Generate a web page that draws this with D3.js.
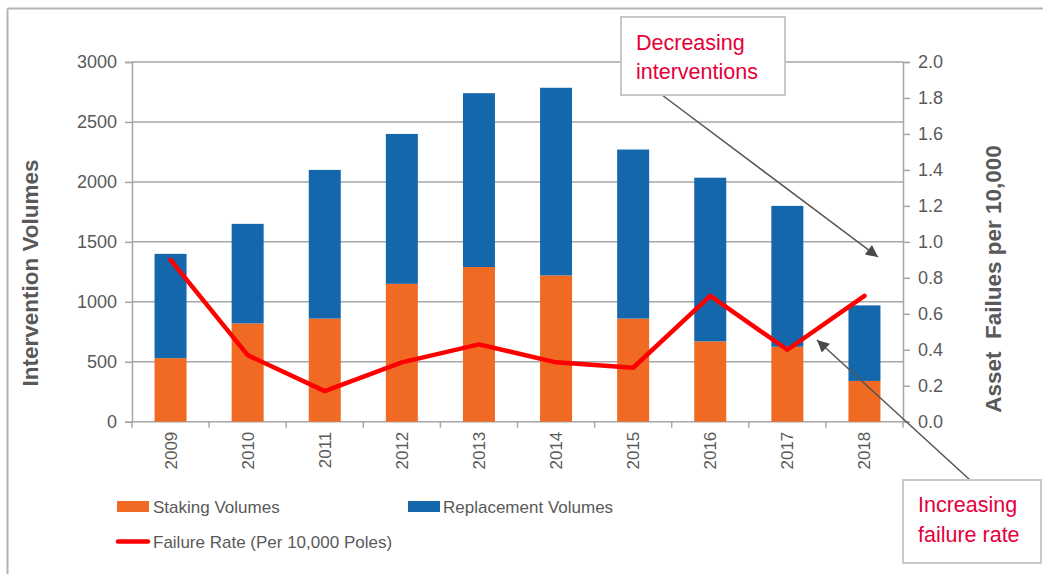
<!DOCTYPE html>
<html><head><meta charset="utf-8">
<script src="https://cdn.jsdelivr.net/npm/d3@7"></script>
<style>
html,body{margin:0;padding:0;background:#fff;}
svg text{font-family:"Liberation Sans",Arial,sans-serif;}
</style></head>
<body><svg id="c" width="1043" height="574"></svg>
<script>
const years = ["2009","2010","2011","2012","2013","2014","2015","2016","2017","2018"];
const staking = [530, 820, 860, 1150, 1290, 1220, 860, 670, 625, 340];
const totals = [1400, 1650, 2100, 2400, 2740, 2785, 2270, 2035, 1800, 970];
const replacement = totals.map((t,i)=>t - staking[i]);
const failureRate = [0.90, 0.37, 0.17, 0.33, 0.43, 0.33, 0.30, 0.70, 0.40, 0.70];
const leftTicks = [0,500,1000,1500,2000,2500,3000];
const rightTicks = [0,0.2,0.4,0.6,0.8,1.0,1.2,1.4,1.6,1.8,2.0];
const seriesNames = ["Staking Volumes","Replacement Volumes","Failure Rate (Per 10,000 Poles)"];

const W=1043,H=574;
const m={l:132,r:903,t:62,b:421.7};
const cOrange="#F06A24", cBlue="#1467AB", cRed="#FF0000", cText="#595959", cGrid="#a6a6a6", cNote="#E4003B";
const svg=d3.select("#c");

// frame
svg.append("line").attr("x1",7.5).attr("x2",W).attr("y1",8.5).attr("y2",8.5).attr("stroke","#b4b4b4").attr("stroke-width",2);
svg.append("line").attr("x1",7.5).attr("x2",7.5).attr("y1",8.5).attr("y2",H).attr("stroke","#b4b4b4").attr("stroke-width",2);

const x=d3.scaleBand().domain(years).range([m.l,m.r]).paddingInner(0.585).paddingOuter(0.2925);
const y=d3.scaleLinear().domain([0,3000]).range([m.b,m.t]);
const y2=d3.scaleLinear().domain([0,2]).range([m.b,m.t]);

// gridlines + left axis
const gl=svg.append("g").attr("transform",`translate(${m.l},0)`)
  .call(d3.axisLeft(y).tickValues(leftTicks).tickSize(7).tickPadding(8).tickFormat(d3.format("d")));
gl.select(".domain").attr("stroke",cGrid).attr("stroke-width",1.5);
gl.selectAll(".tick line").attr("stroke",cGrid).attr("stroke-width",1.5);
gl.selectAll(".tick text").attr("fill",cText).attr("font-size",18).style("font-family","'Liberation Sans',Arial,sans-serif");
svg.append("g").selectAll("line").data(leftTicks).join("line")
  .attr("x1",m.l).attr("x2",m.r).attr("y1",d=>y(d)).attr("y2",d=>y(d))
  .attr("stroke",cGrid).attr("stroke-width",1.5);

// right axis
const gr=svg.append("g").attr("transform",`translate(${m.r},0)`)
  .call(d3.axisRight(y2).tickValues(rightTicks).tickSize(7).tickPadding(8).tickFormat(d3.format(".1f")));
gr.select(".domain").attr("stroke",cGrid).attr("stroke-width",1.5);
gr.selectAll(".tick line").attr("stroke",cGrid).attr("stroke-width",1.5);
gr.selectAll(".tick text").attr("fill",cText).attr("font-size",18).style("font-family","'Liberation Sans',Arial,sans-serif");

// x ticks at boundaries
const step=x.step();
svg.append("g").selectAll("line").data(d3.range(years.length+1)).join("line")
  .attr("x1",i=>m.l+i*step).attr("x2",i=>m.l+i*step).attr("y1",m.b).attr("y2",m.b+6)
  .attr("stroke",cGrid).attr("stroke-width",1.5);
// year labels
svg.append("g").selectAll("text").data(years).join("text")
  .attr("transform",d=>`translate(${x(d)+x.bandwidth()/2},${m.b+10}) rotate(-90)`)
  .attr("text-anchor","end").attr("dy","0.35em").attr("font-size",17).attr("fill",cText).text(d=>d);

// bars
svg.append("g").selectAll("rect").data(years).join("rect")
  .attr("x",d=>x(d)).attr("width",x.bandwidth())
  .attr("y",(d,i)=>y(staking[i])).attr("height",(d,i)=>y(0)-y(staking[i])).attr("fill",cOrange);
svg.append("g").selectAll("rect").data(years).join("rect")
  .attr("x",d=>x(d)).attr("width",x.bandwidth())
  .attr("y",(d,i)=>y(staking[i]+replacement[i])).attr("height",(d,i)=>y(staking[i])-y(staking[i]+replacement[i])).attr("fill",cBlue);

// line
const line=d3.line().x((d,i)=>x(years[i])+x.bandwidth()/2).y(d=>y2(d));
svg.append("path").datum(failureRate).attr("d",line).attr("fill","none")
  .attr("stroke",cRed).attr("stroke-width",4.5).attr("stroke-linejoin","round").attr("stroke-linecap","round");

// axis titles
svg.append("text").attr("transform",`translate(38,273) rotate(-90)`).attr("text-anchor","middle")
  .attr("font-size",22.5).attr("font-weight","bold").attr("fill",cText).text("Intervention Volumes");
svg.append("text").attr("transform",`translate(1001,279) rotate(-90)`).attr("text-anchor","middle")
  .attr("font-size",22.5).attr("font-weight","bold").attr("fill",cText).attr("xml:space","preserve").style("white-space","pre")
  .text("Asset  Failues per 10,000");

// legend
const lg=svg.append("g").attr("font-size",17).attr("fill",cText);
lg.append("rect").attr("x",117).attr("y",501).attr("width",32).attr("height",11).attr("fill",cOrange);
lg.append("text").attr("x",153).attr("y",513).text(seriesNames[0]);
lg.append("rect").attr("x",408).attr("y",501).attr("width",32).attr("height",11).attr("fill",cBlue);
lg.append("text").attr("x",443).attr("y",513).text(seriesNames[1]);
lg.append("line").attr("x1",118).attr("x2",148).attr("y1",541.5).attr("y2",541.5).attr("stroke",cRed).attr("stroke-width",4.5).attr("stroke-linecap","round");
lg.append("text").attr("x",153).attr("y",548).text(seriesNames[2]);

// annotations
const defs=svg.append("defs");
defs.append("marker").attr("id","ah").attr("viewBox","0 0 10 10").attr("refX",10).attr("refY",5)
  .attr("markerWidth",14).attr("markerHeight",12).attr("markerUnits","userSpaceOnUse").attr("orient","auto")
  .append("path").attr("d","M0,0 L10,5 L0,10 z").attr("fill","#4a4a4a");

svg.append("line").attr("x1",662).attr("y1",95).attr("x2",878).attr("y2",257)
  .attr("stroke","#555").attr("stroke-width",1.5).attr("marker-end","url(#ah)");
svg.append("line").attr("x1",970).attr("y1",480).attr("x2",817).attr("y2",340)
  .attr("stroke","#555").attr("stroke-width",1.5).attr("marker-end","url(#ah)");

svg.append("rect").attr("x",621).attr("y",17).attr("width",164).attr("height",78)
  .attr("fill","#fff").attr("stroke","#c8c8c8").attr("stroke-width",2);
svg.append("text").attr("x",636).attr("y",50).attr("font-size",21.5).attr("fill",cNote).text("Decreasing");
svg.append("text").attr("x",636).attr("y",79).attr("font-size",21.5).attr("fill",cNote).text("interventions");

svg.append("rect").attr("x",903).attr("y",480).attr("width",138).attr("height",83)
  .attr("fill","#fff").attr("stroke","#c8c8c8").attr("stroke-width",2);
svg.append("text").attr("x",918).attr("y",512).attr("font-size",21.5).attr("fill",cNote).text("Increasing");
svg.append("text").attr("x",918).attr("y",542).attr("font-size",21.5).attr("fill",cNote).text("failure rate");
</script></body></html>
